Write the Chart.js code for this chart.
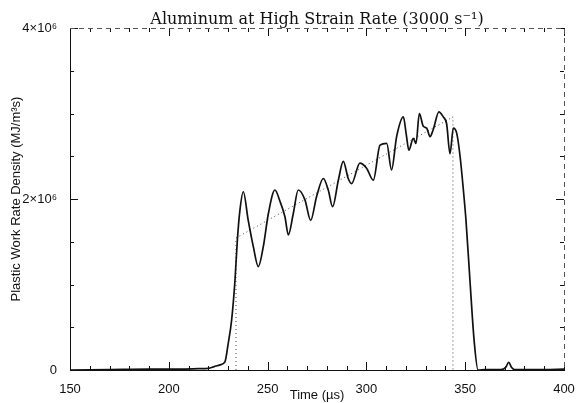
<!DOCTYPE html>
<html>
<head>
<meta charset="utf-8">
<script src="https://cdn.jsdelivr.net/npm/chart.js@4.4.1/dist/chart.umd.min.js"></script>
<style>
  html, body { margin: 0; padding: 0; background: #fff; }
  #wrap { width: 576px; height: 403px; }
</style>
</head>
<body>
<div id="wrap"><canvas id="myChart"></canvas></div>
<script>
// measured work rate curve (time in us, value in MJ/m^3 s)
var times = [150, 170, 190, 205, 215, 220, 223, 226, 228.4, 230, 231.8, 233.5, 234.7, 236, 237.7,
  240.2, 242.8, 245.3, 247.8, 250.4, 253.7, 256.3, 258.8, 260.5, 263, 265.5, 268.9, 271.8,
  274.8, 278.2, 280.7, 282.9, 285.8, 288.3, 290.8, 292.5, 296.7, 300.1, 303.5, 306.9, 310.3,
  312.7, 315.3, 318.7, 320.2, 321.5, 323.7, 325.1, 326.8, 328.8, 330.5, 332.2, 333.8, 336.7,
  338.9, 340.6, 342.3, 344, 345.7, 347.4, 349.1, 350.4, 352.4, 354.5, 356.5, 360, 368, 370.5,
  372, 373.5, 375, 390, 400];
var workRate = [0, 0.005e6, 0.01e6, 0.01e6, 0.015e6, 0.02e6, 0.04e6, 0.06e6, 0.094e6, 0.3e6,
  0.585e6, 1.05e6, 1.52e6, 1.87e6, 2.085e6,
  1.75e6, 1.44e6, 1.21e6, 1.44e6, 1.83e6, 2.105e6, 1.97e6, 1.79e6, 1.58e6, 1.83e6, 2.105e6, 1.99e6, 1.75e6,
  2.03e6, 2.24e6, 2.105e6, 1.91e6, 2.22e6, 2.44e6, 2.24e6, 2.18e6, 2.42e6, 2.36e6, 2.22e6, 2.63e6, 2.65e6,
  2.34e6, 2.73e6, 2.96e6, 2.75e6, 2.57e6, 2.71e6, 2.65e6, 3.0e6, 2.85e6, 2.83e6, 2.73e6, 2.81e6, 3.02e6,
  2.96e6, 2.88e6, 2.53e6, 2.83e6, 2.77e6, 2.5e6, 2.1e6, 1.75e6, 1.05e6, 0.35e6, 0, 0.005e6, 0.005e6, 0.03e6,
  0.09e6, 0.03e6, 0.005e6, 0.005e6, 0.01e6];

// dotted idealised trapezoid
var fitTimes = [234, 234, 343.8, 343.8];
var fitRate = [0, 1.544e6, 2.96e6, 0];

var xTicks = [150, 200, 250, 300, 350, 400];
var yTicks = [0, 2e6, 4e6];
var yTickLabels = ["0", "2×10⁶", "4×10⁶"];
var chartTitle = "Aluminum at High Strain Rate (3000 s⁻¹)";

var curve = times.map(function (t, i) { return { x: t, y: workRate[i] }; });
var fit = fitTimes.map(function (t, i) { return { x: t, y: fitRate[i] }; });

// inward tick marks + dashed top/right frame + title over the plot box
var frameTicks = {
  id: "frameTicks",
  afterDatasetsDraw: function (chart) {
    var ctx = chart.ctx;
    var a = chart.chartArea;
    var xs = chart.scales.x;
    var ys = chart.scales.y;
    ctx.save();
    ctx.strokeStyle = "#111";
    ctx.lineWidth = 1;
    var t, px, len;
    for (t = 150; t <= 400; t += 10) {
      px = Math.round(xs.getPixelForValue(t)) + 0.5;
      len = (t % 50 === 0) ? 8 : 4;
      ctx.beginPath();
      ctx.moveTo(px, a.bottom);
      ctx.lineTo(px, a.bottom - len);
      ctx.moveTo(px, a.top);
      ctx.lineTo(px, a.top + len);
      ctx.stroke();
    }
    for (t = 0; t <= 4e6; t += 0.5e6) {
      px = Math.round(ys.getPixelForValue(t)) + 0.5;
      len = (t % 2e6 === 0) ? 8 : 4;
      ctx.beginPath();
      ctx.moveTo(a.left, px);
      ctx.lineTo(a.left + len, px);
      ctx.moveTo(a.right, px);
      ctx.lineTo(a.right - len, px);
      ctx.stroke();
    }
    ctx.strokeStyle = "#555";
    ctx.setLineDash([5, 4]);
    ctx.beginPath();
    ctx.moveTo(a.left, a.top + 0.5);
    ctx.lineTo(a.right + 0.5, a.top + 0.5);
    ctx.lineTo(a.right + 0.5, a.bottom);
    ctx.stroke();
    ctx.setLineDash([]);

    ctx.fillStyle = "#111";
    ctx.font = "16px 'DejaVu Serif'";
    ctx.textAlign = "center";
    ctx.textBaseline = "alphabetic";
    ctx.fillText(chartTitle, (a.left + a.right) / 2, a.top - 4);
    ctx.restore();
  }
};

var ctx = document.getElementById("myChart").getContext("2d");
var myChart = new Chart(ctx, {
  type: "line",
  data: {
    datasets: [{
      data: curve,
      borderColor: "#111",
      borderWidth: 1.7,
      pointRadius: 0,
      fill: false,
      cubicInterpolationMode: "monotone"
    }, {
      data: fit,
      borderColor: "#444",
      borderWidth: 1,
      borderDash: [1, 3],
      pointRadius: 0,
      fill: false,
      tension: 0
    }]
  },
  options: {
    responsive: true,
    maintainAspectRatio: false,
    animation: false,
    layout: { padding: { top: 28, right: 0, bottom: 0, left: 0 } },
    plugins: {
      legend: { display: false },
      tooltip: { enabled: false },
      title: { display: false }
    },
    scales: {
      x: {
        type: "linear",
        min: 150,
        max: 400,
        afterBuildTicks: function (scale) {
          scale.ticks = xTicks.map(function (v) { return { value: v }; });
        },
        afterFit: function (scale) {
          scale.height = 33;
          scale.paddingRight = 12;
        },
        grid: { display: false },
        border: { display: true, color: "#111", width: 1 },
        ticks: {
          color: "#111",
          padding: 4,
          maxRotation: 0,
          autoSkip: false,
          font: { family: "Liberation Sans", size: 13 }
        },
        title: {
          display: true,
          text: "Time (µs)",
          color: "#111",
          font: { family: "Liberation Sans", size: 13 },
          padding: { top: 0, bottom: 0 }
        }
      },
      y: {
        min: 0,
        max: 4e6,
        afterBuildTicks: function (scale) {
          scale.ticks = yTicks.map(function (v) { return { value: v }; });
        },
        afterFit: function (scale) { scale.width = 70; },
        grid: { display: false },
        border: { display: true, color: "#111", width: 1 },
        ticks: {
          color: "#111",
          padding: 5,
          font: { family: "Liberation Sans", size: 13 },
          callback: function (value) {
            var i = yTicks.indexOf(value);
            return i >= 0 ? yTickLabels[i] : "";
          }
        },
        title: {
          display: true,
          text: "Plastic Work Rate Density (MJ/m³s)",
          color: "#111",
          font: { family: "Liberation Sans", size: 13 },
          padding: { top: 9, bottom: 0 }
        }
      }
    }
  },
  plugins: [frameTicks]
});
</script>
</body>
</html>
